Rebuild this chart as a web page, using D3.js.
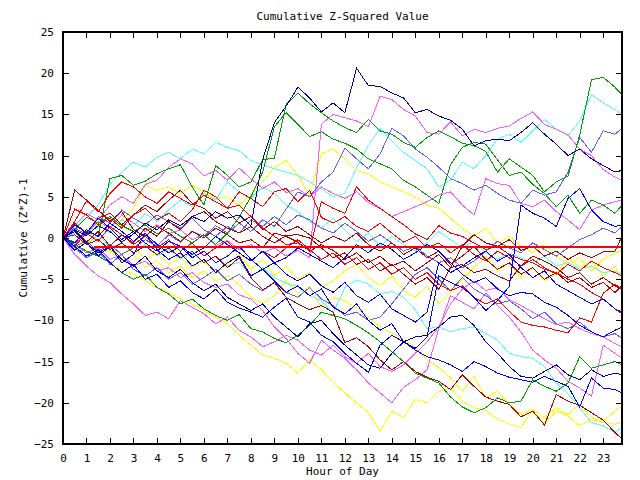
<!DOCTYPE html>
<html><head><meta charset="utf-8">
<script src="https://cdn.jsdelivr.net/npm/d3@7"></script>
<style>
body{margin:0;background:#fff}
svg{display:block}
text{font-family:"DejaVu Sans Mono",monospace;font-size:11px;fill:#000}
</style>
</head><body>
<svg id="c" width="640" height="480"></svg>
<script>
// ---- data ----
const hours = [0,0.5,1,1.5,2,2.5,3,3.5,4,4.5,5,5.5,6,6.5,7,7.5,8,8.5,9,9.5,10,10.5,11,11.5,12,12.5,13,13.5,14,14.5,15,15.5,16,16.5,17,17.5,18,18.5,19,19.5,20,20.5,21,21.5,22,22.5,23,23.5,23.8];
const xTicks = [0,1,2,3,4,5,6,7,8,9,10,11,12,13,14,15,16,17,18,19,20,21,22,23];
const yTicks = [-25,-20,-15,-10,-5,0,5,10,15,20,25];

const navyPeak = [0,1.0,0.3,1.5,0.8,-0.5,0.5,1.8,1.0,2.2, 1.5,2.6,2.0,3.2,2.4,2.8,1.5,9.5,14.0,16.0, 18.3,17.0,15.3,16.4,15.2,20.6,18.5,18.4,17.6,17.0, 15.2,15.6,14.8,14.3,13.2,11.2,11.8,12.0,11.8,12.8, 14.0,12.6,11.4,10.0,10.8,9.6,8.8,8.0,8.2];
const greenHigh = [0,-0.5,0.8,0.2,7.2,7.6,6.4,6.9,7.8,8.4, 8.9,6.2,4.0,8.8,7.6,6.2,6.8,9.5,9.7,16.2, 17.6,16.3,15.2,14.2,13.4,12.8,14.4,13.0,12.6,11.6, 11.0,12.2,13.0,12.3,11.5,11.2,10.5,8.0,9.6,8.6, 7.6,5.6,6.8,7.5,12.5,19.2,19.5,18.3,17.4];
const greenMid = [0,1.0,2.5,1.8,2.6,1.5,0.8,1.6,0.5,1.2, 0.2,-0.6,0.4,-0.8,0.6,2.5,5.0,8.0,13.5,15.2, 13.8,12.3,12.9,12.0,11.5,10.8,9.6,9.0,8.4,7.0, 6.2,5.2,4.2,8.9,11.0,11.6,11.4,9.5,7.6,8.0, 6.5,5.4,3.8,5.2,3.0,4.6,4.0,3.0,4.0];
const magentaJump = [0,-0.8,0.6,2.0,1.2,2.8,1.8,0.8,1.6,0.5, 1.0,-0.2,0.4,-0.9,-0.3,-1.4,-0.8,-1.8,-1.2,-2.2, -1.5,-2.4,13.8,15.0,14.6,14.2,13.5,17.2,16.8,15.6, 14.8,12.8,12.6,14.1,12.4,13.2,12.8,13.3,13.6,14.5, 15.3,13.8,13.2,12.5,10.8,10.0,8.3,7.4,7.0];
const magentaUp = [0,1.5,3.0,2.2,4.0,5.0,4.2,6.5,7.0,8.6, 9.6,9.0,7.5,8.2,7.0,8.5,7.2,6.0,6.8,5.5, 6.0,5.0,6.2,5.4,4.8,5.6,4.3,3.6,2.6,3.2, 3.8,4.4,5.2,5.6,4.0,2.8,7.2,6.6,6.4,4.2, 3.8,4.6,3.2,2.2,1.0,3.4,4.0,4.4,4.6];
const cyanHigh = [0,1.2,2.5,4.0,6.5,8.0,9.2,8.6,9.8,10.4, 9.6,10.8,10.2,11.6,11.0,10.6,9.4,8.9,8.4,8.0, 7.6,6.8,6.0,5.0,5.4,8.5,11.2,13.3,11.8,10.4, 9.4,8.4,6.2,7.0,9.2,8.4,10.0,12.0,12.6,11.6, 13.0,14.4,13.2,12.4,14.2,17.4,16.4,15.6,15.0];
const slateHigh = [0,-1.0,-0.4,-1.6,-0.8,-2.0,-1.2,-0.2,-1.0,0.4, -0.5,0.8,0.2,1.5,0.6,1.8,0.8,2.2,1.4,3.5, 5.6,5.0,6.8,8.0,10.9,9.6,8.4,10.2,13.3,12.4, 10.8,9.8,8.6,7.2,6.6,5.8,6.4,5.4,4.6,4.2, 5.8,5.2,5.6,8.0,12.2,10.4,13.0,12.6,13.3];
const redJump = [0,2.0,4.5,3.2,5.4,6.8,6.2,5.0,4.2,5.6, 4.8,4.0,5.2,4.4,3.6,4.0,2.6,1.2,0.2,-0.8, -0.6,-1.5,4.4,3.6,3.0,6.2,4.6,3.6,2.6,1.6, 0.5,-0.2,1.5,0.6,0.2,-0.6,-1.4,-1.0,-2.0,-2.6, -3.0,-3.8,-4.2,-5.0,-5.6,-6.6,-7.4,-8.6,-9.2];
const redUpper = [0,3.5,2.8,1.6,2.4,1.2,2.8,3.6,2.2,3.0, 2.0,3.4,5.8,5.0,3.6,5.6,4.8,3.8,5.6,6.0, 4.4,5.8,2.5,1.8,2.6,1.4,0.8,1.8,0.6,-0.5, 0.2,-1.2,-0.6,-1.8,-0.8,-2.0,-2.8,-1.6,-2.4,-3.4, -2.6,-3.6,-4.4,-3.2,-4.0,-2.8,-3.6,-4.2,-4.6];
const darkredEarly = [0,5.8,4.6,3.4,2.0,3.2,1.0,0.2,1.4,0.6, -0.4,0.8,0.0,1.2,0.4,-0.6,-0.2,-1.2,0.6,0.2, -0.5,-1.6,-0.8,-1.5,-2.6,-1.8,-3.0,-2.2,-3.4,-2.8, -4.0,-3.0,-2.0,-3.6,-1.0,0.4,-0.6,-1.0,-0.2,-1.5, -1.0,-2.2,-1.6,-2.6,-1.8,-2.4,-1.7,-1.6,0.2];
const darkredMid = [0,1.0,-0.5,0.8,-1.0,0.4,-0.6,1.2,0.2,2.0, 1.0,2.6,3.2,2.0,1.2,0.6,1.4,0.2,-0.6,0.3, 0.4,0.0,-1.2,-2.4,-1.8,-3.2,-2.6,-4.0,-3.2,-4.4, -5.6,-4.8,-6.2,-3.6,-3.2,-4.2,-3.8,-4.6,-5.2,-3.4, -2.2,-2.8,-3.6,-4.8,-4.2,-5.6,-4.8,-5.8,-6.2];
const yellowHigh = [0,-1.0,0.5,1.8,0.8,2.2,3.6,6.4,5.8,6.2, 5.4,6.4,5.6,4.8,5.0,4.0,5.2,6.8,8.6,9.4, 7.6,5.2,10.2,10.8,9.6,8.2,7.8,6.8,6.2,5.6, 5.0,4.0,3.6,2.4,1.2,0.2,1.2,-0.6,0.2,-1.0, -1.8,-0.8,-2.2,-3.2,-2.4,-4.0,-2.6,-1.8,-1.6];
const blueJump = [0,-1.5,-0.5,-2.2,-1.0,-3.0,-2.0,0.6,-1.4,-2.6, -1.8,-3.4,-2.6,-4.2,-3.0,-2.2,-4.6,-3.8,-5.2,-6.6, -5.8,-7.0,-6.2,-8.4,-9.2,-8.0,-10.0,-11.2,-10.4,-12.6, -13.4,-12.0,-4.6,-5.4,-6.0,-7.2,-8.8,-7.6,-5.9,4.0, 3.0,2.4,1.4,4.8,6.0,3.4,2.0,1.4,1.6];
const blueMid = [0,1.6,0.6,2.4,1.2,-0.2,0.8,-0.6,-1.6,-0.4, -1.0,-2.0,-1.2,0.2,-0.8,-1.8,-2.8,-1.6,-3.0,-2.4, -1.2,-2.0,-2.8,-3.6,-2.4,-0.8,-1.8,-0.6,-1.4,-2.6, -1.8,-0.8,-1.6,-3.0,-4.4,-5.4,-4.8,-6.2,-7.0,-6.6, -6.8,-7.8,-8.4,-9.4,-10.6,-11.4,-12.0,-11.2,-10.8];
const slateLow = [0,-1.2,-2.4,-1.6,-3.2,-2.0,-3.8,-4.6,-3.6,-5.0, -4.2,-5.6,-4.8,-3.8,-5.2,-4.4,-5.6,-6.4,-5.4,-6.6, -7.2,-6.0,-7.4,-8.2,-9.4,-9.0,-10.0,-9.6,-8.0,-6.2, -4.4,-3.6,-5.0,-6.4,-4.8,-6.2,-7.0,-8.0,-7.6,-8.6, -9.8,-9.0,-10.4,-11.0,-10.2,-11.4,-12.0,-11.6,-12.2];
const magentaLow = [0,-0.8,-1.8,-1.2,-2.6,-2.0,-3.4,-2.8,-4.0,-3.6, -4.8,-4.2,-5.4,-6.0,-5.6,-6.9,-7.4,-8.8,-10.8,-12.2, -14.0,-15.2,-12.4,-13.6,-14.6,-16.0,-17.6,-18.8,-20.0,-18.1, -17.2,-16.0,-11.0,-7.0,-7.8,-8.6,-6.7,-8.2,-9.6,-11.4, -13.6,-14.8,-15.8,-17.4,-18.2,-19.2,-13.0,-14.0,-14.6];
const magentaFast = [0,-2.0,-3.4,-4.6,-5.4,-6.8,-8.0,-9.4,-9.0,-9.8, -7.6,-8.4,-9.2,-10.4,-9.6,-11.2,-12.0,-13.2,-12.6,-11.8, -12.4,-13.6,-14.2,-13.0,-14.4,-15.2,-14.0,-15.6,-16.2,-15.4, -14.0,-12.6,-10.8,-8.0,-6.2,-5.2,-6.4,-6.0,-7.5,-8.2, -9.0,-9.8,-10.5,-10.2,-11.0,-11.6,-12.0,-12.8,-13.2];
const greenLow = [0,-0.8,-1.6,-2.2,-3.0,-4.2,-5.0,-4.4,-6.0,-6.8, -8.0,-7.4,-8.6,-9.4,-10.0,-9.3,-11.0,-11.4,-12.2,-12.7, -11.8,-10.6,-9.0,-9.4,-9.8,-10.6,-11.5,-12.6,-13.8,-15.0, -16.4,-17.0,-17.6,-19.3,-20.5,-21.2,-20.6,-19.4,-20.0,-19.8, -17.2,-18.0,-18.6,-17.6,-14.4,-15.8,-15.4,-15.0,-15.4];
const blueLow = [0,-1.0,-2.2,-1.4,-3.0,-4.2,-3.2,-5.0,-4.4,-6.0, -5.2,-6.6,-7.4,-6.2,-7.8,-8.5,-9.0,-9.6,-8.4,-7.3, -9.6,-10.2,-11.8,-12.6,-14.0,-15.2,-16.3,-13.0,-11.8,-12.6, -13.6,-14.4,-14.8,-15.4,-16.2,-15.0,-15.6,-16.4,-16.9,-17.2, -17.5,-16.8,-17.4,-18.0,-20.5,-17.0,-18.2,-18.4,-18.8];
const navyLow = [0,0.8,-0.6,-1.8,-1.0,-2.6,-3.4,-2.2,-4.0,-4.8, -3.8,-5.4,-6.4,-5.6,-7.2,-8.0,-8.8,-8.0,-9.6,-10.8, -12.0,-10.4,-10.0,-11.6,-13.0,-14.2,-15.4,-15.8,-14.0,-12.6, -12.0,-11.8,-10.8,-9.6,-9.4,-10.6,-12.6,-14.0,-15.6,-16.8, -17.0,-16.2,-15.4,-16.6,-17.2,-16.0,-16.8,-16.4,-16.6];
const cyanLow = [0,0.6,-0.8,0.4,-1.2,-0.6,-1.8,-0.8,-2.2,-1.4, -2.6,-1.8,-3.0,-2.2,-3.4,-2.9,-4.7,-3.6,-4.8,-5.5, -5.9,-7.0,-7.6,-9.1,-6.0,-5.1,-5.6,-6.8,-6.5,-7.2, -8.7,-11.0,-10.8,-11.4,-11.0,-10.8,-11.6,-12.4,-14.0,-14.4, -14.6,-15.6,-17.6,-18.9,-20.6,-22.4,-22.8,-23.6,-23.0];
const darkredLow = [0,0.4,-0.8,-0.2,-1.4,-0.6,-1.8,-1.0,-2.0,-1.2, -2.4,-1.6,-3.0,-2.2,-3.6,-2.4,-4.8,-6.3,-5.4,-7.2, -8.0,-8.7,-8.2,-9.0,-12.7,-12.1,-13.2,-14.8,-16.0,-15.0, -16.2,-16.9,-17.4,-18.4,-16.6,-18.0,-19.3,-19.8,-20.2,-21.7, -21.0,-22.7,-19.0,-19.8,-20.3,-21.2,-22.1,-23.6,-24.4];
const yellowLowest = [0,-0.8,-1.6,-2.2,-3.0,-3.8,-4.4,-5.2,-6.0,-6.6, -7.4,-8.0,-8.8,-9.6,-10.4,-11.8,-13.0,-14.2,-14.6,-15.2, -16.4,-14.8,-16.0,-17.5,-18.8,-20.0,-21.2,-23.5,-21.0,-21.8, -19.6,-20.0,-18.6,-18.2,-19.8,-20.6,-20.9,-22.0,-22.6,-23.0, -20.9,-22.6,-21.0,-21.6,-22.8,-22.0,-22.4,-22.6,-22.3];
const yellowLow = [0,-1.2,-0.4,-2.0,-1.4,-2.8,-2.0,-3.6,-2.8,-4.2, -3.4,-4.8,-4.0,-5.2,-4.6,-5.7,-7.2,-7.9,-7.0,-5.1, -6.7,-5.9,-8.4,-7.2,-7.6,-8.5,-9.6,-10.8,-11.5,-12.4, -13.2,-14.8,-15.7,-17.0,-18.6,-16.8,-19.4,-18.6,-20.2,-21.4, -20.8,-21.8,-20.6,-21.4,-20.2,-21.8,-22.2,-21.0,-20.4];
const yellowMid = [0,0.8,-0.6,0.4,-1.2,-2.0,-1.0,-2.6,-1.8,-3.2, -2.4,-3.6,-2.8,-4.4,-3.2,-2.0,-3.8,-2.6,-4.6,-3.4, -5.0,-4.2,-6.0,-5.2,-4.0,-3.2,-4.8,-5.8,-4.6,-6.4, -7.2,-5.8,-8.0,-6.6,-5.0,-3.6,-2.2,-4.0,-3.0,-4.8, -3.6,-5.2,-4.4,-2.4,-3.6,-2.8,-4.6,-3.4,-5.0];
const cyanMid = [0,-0.6,0.8,1.6,0.6,2.2,1.4,3.0,2.0,3.4, 4.6,3.8,5.4,4.6,6.8,5.6,4.8,6.2,5.4,4.0, 3.2,2.0,1.2,2.4,1.0,-0.4,0.6,-1.0,0.2,-0.8, -1.6,-0.6,0.8,-0.2,-1.2,-0.4,-1.8,-2.6,-1.8,-2.4, -3.0,-2.2,-3.4,-3.0,-3.8,-3.4,-4.2,-4.0,-4.4];
const slateMid = [0,1.2,0.4,2.6,1.8,3.4,2.4,1.6,2.8,2.0, 1.2,2.4,1.0,0.2,1.4,0.6,2.2,1.4,2.6,1.6, 2.8,2.2,1.2,0.6,1.8,0.8,-0.4,0.4,-0.6,-1.6, -1.0,-2.2,-3.0,-2.4,-3.6,-2.8,-1.6,-0.4,-1.2,-1.8, -0.6,-1.4,-2.2,-1.2,-0.2,0.4,1.2,0.6,1.4];
const blueStep = [0,-0.6,1.0,0.2,1.8,0.8,-0.4,0.6,-0.8,-1.8, -1.0,-2.4,-1.6,-3.0,-2.2,-1.0,-2.6,-3.8,-3.0,-4.4, -5.2,-4.4,-5.8,-6.6,-5.4,-7.0,-7.8,-6.8,-8.6,-9.4, -10.2,-9.0,-3.0,-4.2,-3.4,-2.4,-1.6,-2.8,-2.0,-3.6, -4.8,-4.0,-5.6,-6.4,-7.2,-8.0,-7.4,-8.6,-9.0];
const redLow = [0,-1.0,0.6,-0.4,1.4,0.4,-0.8,0.2,-1.2,-0.2, -1.6,-0.6,-2.2,-1.2,-0.4,-1.8,-2.8,-1.6,-2.4,-1.2, -0.2,-1.4,-2.6,-1.8,-3.2,-2.4,-3.8,-3.0,-4.4,-3.6, -5.0,-4.2,-5.6,-6.4,-5.8,-7.2,-8.0,-7.4,-8.9,-10.2, -10.6,-10.8,-11.2,-11.5,-9.7,-10.2,-6.7,-5.6,-6.2];
const darkredUpper = [0,1.8,0.6,2.4,3.0,1.6,2.8,4.0,3.2,4.6, 5.8,4.2,3.6,2.4,3.2,1.8,2.6,1.0,2.0,0.8, 1.4,0.4,-0.6,0.2,-0.4,0.6,-0.8,-1.6,-0.6,-2.0, -1.2,-2.4,-1.6,-3.2,-2.2,-1.0,-2.6,-3.8,-3.0,-4.4, -3.6,-5.0,-4.2,-5.4,-4.8,-6.0,-5.4,-6.6,-5.8];

const refLineValue = -1.1;
const refLineStart = 1.3;
const refLineEnd = 23.8;

// ---- styling ----
const C = {blue:"#0000ff", navy:"#0000a8", slate:"#6060ff", green:"#00a000", magenta:"#ff5cff", cyan:"#5cffff", yellow:"#ffff00", red:"#ff0000", darkred:"#b00000"};
const drawList = [
  [yellowLowest,C.yellow],[yellowLow,C.yellow],[yellowMid,C.yellow],[yellowHigh,C.yellow],
  [cyanLow,C.cyan],[cyanMid,C.cyan],[cyanHigh,C.cyan],
  [magentaFast,C.magenta],[magentaLow,C.magenta],[magentaUp,C.magenta],[magentaJump,C.magenta],
  [slateLow,C.slate],[slateMid,C.slate],[slateHigh,C.slate],
  [greenLow,C.green],[greenMid,C.green],[greenHigh,C.green],
  [darkredLow,C.darkred],[darkredMid,C.darkred],[darkredEarly,C.darkred],[darkredUpper,C.darkred],
  [redLow,C.red],[redUpper,C.red],[redJump,C.red],
  [blueLow,C.blue],[blueMid,C.blue],[blueJump,C.blue],[blueStep,C.blue],
  [navyLow,C.navy],[navyPeak,C.navy]
];

const PL = 63, PR = 622, PT = 32, PB = 444;
const svg = d3.select("#c");
const x = d3.scaleLinear().domain([0, 23.8]).range([PL, PR]);
const y = d3.scaleLinear().domain([-25, 25]).range([PB, PT]);

svg.append("defs").append("clipPath").attr("id","clip")
  .append("rect").attr("x",PL).attr("y",PT).attr("width",PR-PL).attr("height",PB-PT);

const lineGen = d3.line().x((d,i)=>x(hours[i])).y(d=>y(d));
const plotG = svg.append("g").attr("clip-path","url(#clip)");
drawList.forEach(([vals,col])=>{
  plotG.append("path").datum(vals).attr("d",lineGen)
   .attr("fill","none").attr("stroke",col).attr("stroke-width",1)
   .attr("shape-rendering","crispEdges");
});
plotG.append("line")
  .attr("x1",x(refLineStart)).attr("x2",x(refLineEnd))
  .attr("y1",y(refLineValue)).attr("y2",y(refLineValue))
  .attr("stroke",C.red).attr("stroke-width",1.5).attr("shape-rendering","crispEdges");

// axes
const axBottom = svg.append("g").attr("transform",`translate(0,${PB})`)
  .call(d3.axisBottom(x).tickValues(xTicks).tickSizeOuter(0).tickSizeInner(-6).tickPadding(10).tickFormat(d3.format("d")));
const axTop = svg.append("g").attr("transform",`translate(0,${PT})`)
  .call(d3.axisTop(x).tickValues(xTicks).tickSizeOuter(0).tickSizeInner(-6).tickFormat(""));
const axLeft = svg.append("g").attr("transform",`translate(${PL},0)`)
  .call(d3.axisLeft(y).tickValues(yTicks).tickSizeOuter(0).tickSizeInner(-6).tickPadding(9).tickFormat(d3.format("d")));
const axRight = svg.append("g").attr("transform",`translate(${PR},0)`)
  .call(d3.axisRight(y).tickValues(yTicks).tickSizeOuter(0).tickSizeInner(-6).tickFormat(""));
[axBottom,axTop,axLeft,axRight].forEach(s=>{
  s.select(".domain").remove();
  s.selectAll("line").attr("stroke","#000").attr("shape-rendering","crispEdges");
  s.selectAll("text").attr("font-family","DejaVu Sans Mono").attr("font-size",11).attr("fill","#000");
});

svg.append("rect").attr("x",PL).attr("y",PT).attr("width",PR-PL).attr("height",PB-PT)
  .attr("fill","none").attr("stroke","#000").attr("stroke-width",2).attr("shape-rendering","crispEdges");

svg.append("text").attr("x",(PL+PR)/2).attr("y",20).attr("text-anchor","middle").text("Cumulative Z-Squared Value");
svg.append("text").attr("x",(PL+PR)/2).attr("y",475).attr("text-anchor","middle").text("Hour of Day");
svg.append("text").attr("transform",`translate(27,${(PT+PB)/2}) rotate(-90)`).attr("text-anchor","middle").text("Cumulative (Z*Z)-1");
</script>
</body></html>
